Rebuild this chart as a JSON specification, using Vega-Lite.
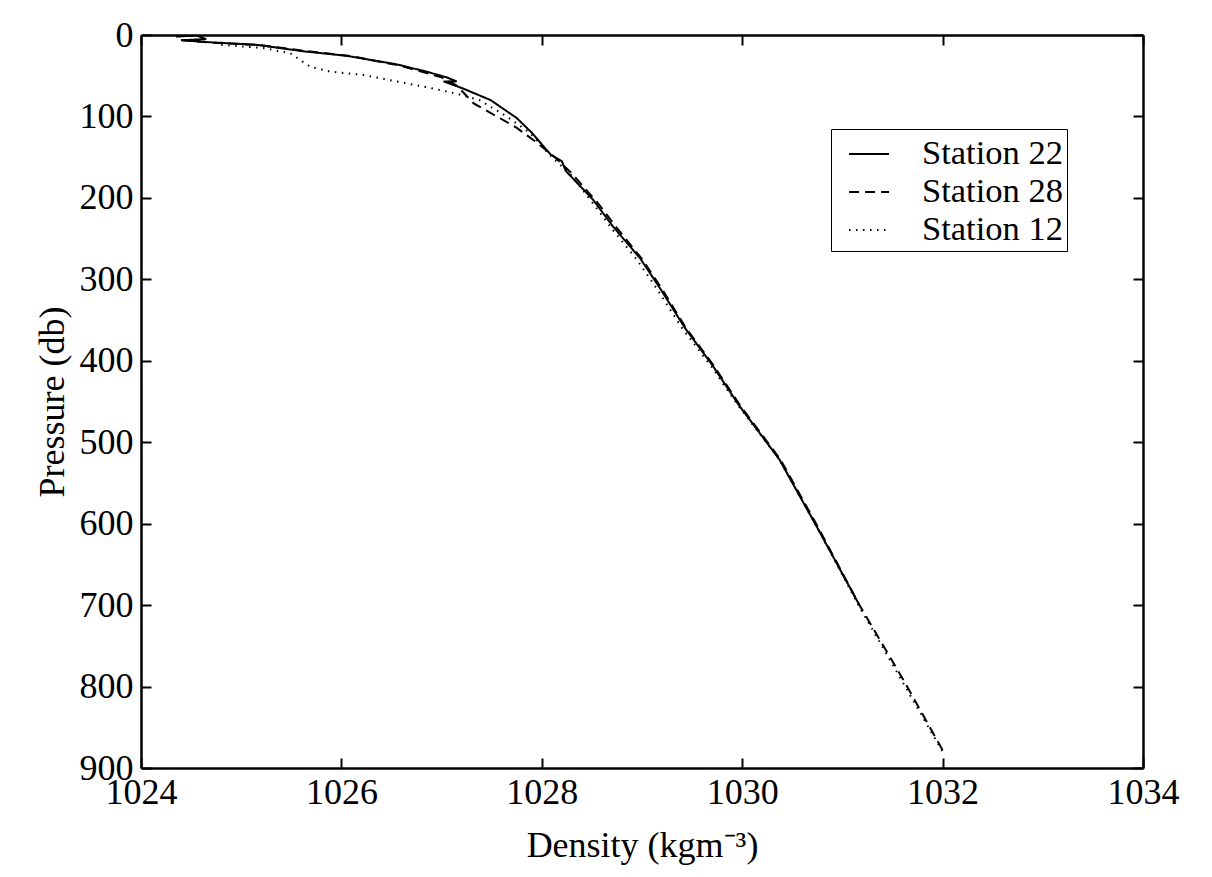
{
  "$schema": "https://vega.github.io/schema/vega-lite/v6.json",
  "autosize": "none",
  "width": 1002,
  "height": 733,
  "padding": {"left": 141, "top": 35, "right": 69, "bottom": 109},
  "background": "white",
  "config": {
    "view": {"stroke": null},
    "font": "Liberation Serif",
    "axis": {
      "domainColor": "black", "domainWidth": 2.5, "tickColor": "black", "tickWidth": 2, "tickSize": -10,
      "labelFont": "Liberation Serif", "labelFontSize": 36, "labelColor": "black",
      "titleFont": "Liberation Serif", "titleFontSize": 36, "titleFontWeight": "normal", "titleColor": "black",
      "grid": false
    }
  },
  "datasets": {
    "profiles": [
      {"station": "Station 22", "i": 1, "d": 1024.35, "p": 2},
      {"station": "Station 22", "i": 2, "d": 1024.55, "p": 0.5},
      {"station": "Station 22", "i": 3, "d": 1024.65, "p": 5},
      {"station": "Station 22", "i": 4, "d": 1024.40, "p": 6.5},
      {"station": "Station 22", "i": 5, "d": 1024.70, "p": 9},
      {"station": "Station 22", "i": 6, "d": 1025.15, "p": 12},
      {"station": "Station 22", "i": 7, "d": 1025.62, "p": 20},
      {"station": "Station 22", "i": 8, "d": 1026.05, "p": 25.5},
      {"station": "Station 22", "i": 9, "d": 1026.55, "p": 36},
      {"station": "Station 22", "i": 10, "d": 1026.85, "p": 45},
      {"station": "Station 22", "i": 11, "d": 1027.05, "p": 52},
      {"station": "Station 22", "i": 12, "d": 1027.15, "p": 57},
      {"station": "Station 22", "i": 13, "d": 1027.02, "p": 57},
      {"station": "Station 22", "i": 14, "d": 1027.22, "p": 66},
      {"station": "Station 22", "i": 15, "d": 1027.49, "p": 80},
      {"station": "Station 22", "i": 16, "d": 1027.75, "p": 102},
      {"station": "Station 22", "i": 17, "d": 1027.90, "p": 120},
      {"station": "Station 22", "i": 18, "d": 1028.09, "p": 147},
      {"station": "Station 22", "i": 19, "d": 1028.20, "p": 155},
      {"station": "Station 22", "i": 20, "d": 1028.24, "p": 167},
      {"station": "Station 22", "i": 21, "d": 1028.51, "p": 202},
      {"station": "Station 22", "i": 22, "d": 1028.71, "p": 235},
      {"station": "Station 22", "i": 23, "d": 1028.98, "p": 274},
      {"station": "Station 22", "i": 24, "d": 1029.18, "p": 311},
      {"station": "Station 22", "i": 25, "d": 1029.43, "p": 360},
      {"station": "Station 22", "i": 26, "d": 1029.70, "p": 405},
      {"station": "Station 22", "i": 27, "d": 1029.97, "p": 455},
      {"station": "Station 22", "i": 28, "d": 1030.37, "p": 521},
      {"station": "Station 22", "i": 29, "d": 1030.75, "p": 605},
      {"station": "Station 22", "i": 30, "d": 1031.17, "p": 700},
      {"station": "Station 28", "i": 1, "d": 1024.40, "p": 6},
      {"station": "Station 28", "i": 2, "d": 1024.70, "p": 9.5},
      {"station": "Station 28", "i": 3, "d": 1025.20, "p": 12.5},
      {"station": "Station 28", "i": 4, "d": 1025.60, "p": 19},
      {"station": "Station 28", "i": 5, "d": 1026.10, "p": 26},
      {"station": "Station 28", "i": 6, "d": 1026.60, "p": 38},
      {"station": "Station 28", "i": 7, "d": 1027.00, "p": 52},
      {"station": "Station 28", "i": 8, "d": 1027.15, "p": 62},
      {"station": "Station 28", "i": 9, "d": 1027.32, "p": 84},
      {"station": "Station 28", "i": 10, "d": 1027.58, "p": 102},
      {"station": "Station 28", "i": 11, "d": 1027.75, "p": 114},
      {"station": "Station 28", "i": 12, "d": 1027.95, "p": 132},
      {"station": "Station 28", "i": 13, "d": 1028.13, "p": 150},
      {"station": "Station 28", "i": 14, "d": 1028.30, "p": 170},
      {"station": "Station 28", "i": 15, "d": 1028.55, "p": 205},
      {"station": "Station 28", "i": 16, "d": 1028.75, "p": 237},
      {"station": "Station 28", "i": 17, "d": 1029.00, "p": 275},
      {"station": "Station 28", "i": 18, "d": 1029.20, "p": 312},
      {"station": "Station 28", "i": 19, "d": 1029.44, "p": 360},
      {"station": "Station 28", "i": 20, "d": 1029.71, "p": 405},
      {"station": "Station 28", "i": 21, "d": 1029.98, "p": 455},
      {"station": "Station 28", "i": 22, "d": 1030.38, "p": 521},
      {"station": "Station 28", "i": 23, "d": 1030.76, "p": 605},
      {"station": "Station 28", "i": 24, "d": 1031.17, "p": 700},
      {"station": "Station 28", "i": 25, "d": 1031.60, "p": 790},
      {"station": "Station 28", "i": 26, "d": 1032.00, "p": 878},
      {"station": "Station 12", "i": 1, "d": 1024.80, "p": 12},
      {"station": "Station 12", "i": 2, "d": 1025.22, "p": 16},
      {"station": "Station 12", "i": 3, "d": 1025.49, "p": 22.5},
      {"station": "Station 12", "i": 4, "d": 1025.69, "p": 39},
      {"station": "Station 12", "i": 5, "d": 1025.89, "p": 45},
      {"station": "Station 12", "i": 6, "d": 1026.22, "p": 49},
      {"station": "Station 12", "i": 7, "d": 1026.55, "p": 57},
      {"station": "Station 12", "i": 8, "d": 1026.89, "p": 65},
      {"station": "Station 12", "i": 9, "d": 1027.15, "p": 72},
      {"station": "Station 12", "i": 10, "d": 1027.38, "p": 80},
      {"station": "Station 12", "i": 11, "d": 1027.65, "p": 100},
      {"station": "Station 12", "i": 12, "d": 1027.88, "p": 120},
      {"station": "Station 12", "i": 13, "d": 1028.10, "p": 150},
      {"station": "Station 12", "i": 14, "d": 1028.28, "p": 170},
      {"station": "Station 12", "i": 15, "d": 1028.50, "p": 205},
      {"station": "Station 12", "i": 16, "d": 1028.70, "p": 238},
      {"station": "Station 12", "i": 17, "d": 1028.95, "p": 276},
      {"station": "Station 12", "i": 18, "d": 1029.15, "p": 312},
      {"station": "Station 12", "i": 19, "d": 1029.40, "p": 360},
      {"station": "Station 12", "i": 20, "d": 1029.68, "p": 405},
      {"station": "Station 12", "i": 21, "d": 1029.96, "p": 455},
      {"station": "Station 12", "i": 22, "d": 1030.37, "p": 521},
      {"station": "Station 12", "i": 23, "d": 1030.75, "p": 605},
      {"station": "Station 12", "i": 24, "d": 1031.16, "p": 700},
      {"station": "Station 12", "i": 25, "d": 1031.58, "p": 790},
      {"station": "Station 12", "i": 26, "d": 1032.00, "p": 880}
    ]
  },
  "data": {"name": "profiles"},
  "layer": [
    {
      "mark": {"type": "line", "color": "black", "strokeWidth": 2, "clip": true},
      "encoding": {
        "x": {"field": "d", "type": "quantitative",
              "scale": {"domain": [1024, 1034], "nice": false, "zero": false},
              "axis": {"orient": "bottom", "values": [1024, 1026, 1028, 1030, 1032, 1034], "format": "d", "title": "Density (kgm⁻³)", "labelPadding": 17, "titlePadding": 18, "labelFlush": false}},
        "y": {"field": "p", "type": "quantitative",
              "scale": {"domain": [0, 900], "nice": false, "zero": false, "reverse": true},
              "axis": {"orient": "left", "values": [0, 100, 200, 300, 400, 500, 600, 700, 800, 900], "format": "d", "title": "Pressure (db)", "labelPadding": 18, "titlePadding": 8, "labelFlush": false}},
        "order": {"field": "i", "type": "quantitative"},
        "strokeDash": {"field": "station", "type": "nominal",
              "scale": {"domain": ["Station 22", "Station 28", "Station 12"], "range": [[1, 0], [10, 6], [1.5, 5.5]]},
              "legend": {"title": null, "orient": "none", "legendX": 690, "legendY": 94,
                         "symbolType": "stroke", "symbolSize": 1600, "symbolStrokeWidth": 2, "symbolStrokeColor": "black", "symbolOffset": 13,
                         "labelFont": "Liberation Serif", "labelFontSize": 34.5, "labelColor": "black", "labelOffset": 32,
                         "strokeColor": "black", "fillColor": "white", "padding": 4, "rowPadding": 0, "cornerRadius": 0}}
      }
    },
    {
      "mark": {"type": "line", "opacity": 0},
      "encoding": {
        "x": {"field": "d", "type": "quantitative",
              "axis": {"orient": "top", "values": [1024, 1026, 1028, 1030, 1032, 1034], "labels": false, "title": null}},
        "y": {"field": "p", "type": "quantitative",
              "axis": {"orient": "right", "values": [0, 100, 200, 300, 400, 500, 600, 700, 800, 900], "labels": false, "title": null}},
        "detail": {"field": "station"},
        "order": {"field": "i", "type": "quantitative"}
      }
    }
  ],
  "resolve": {"axis": {"x": "independent", "y": "independent"}}
}
